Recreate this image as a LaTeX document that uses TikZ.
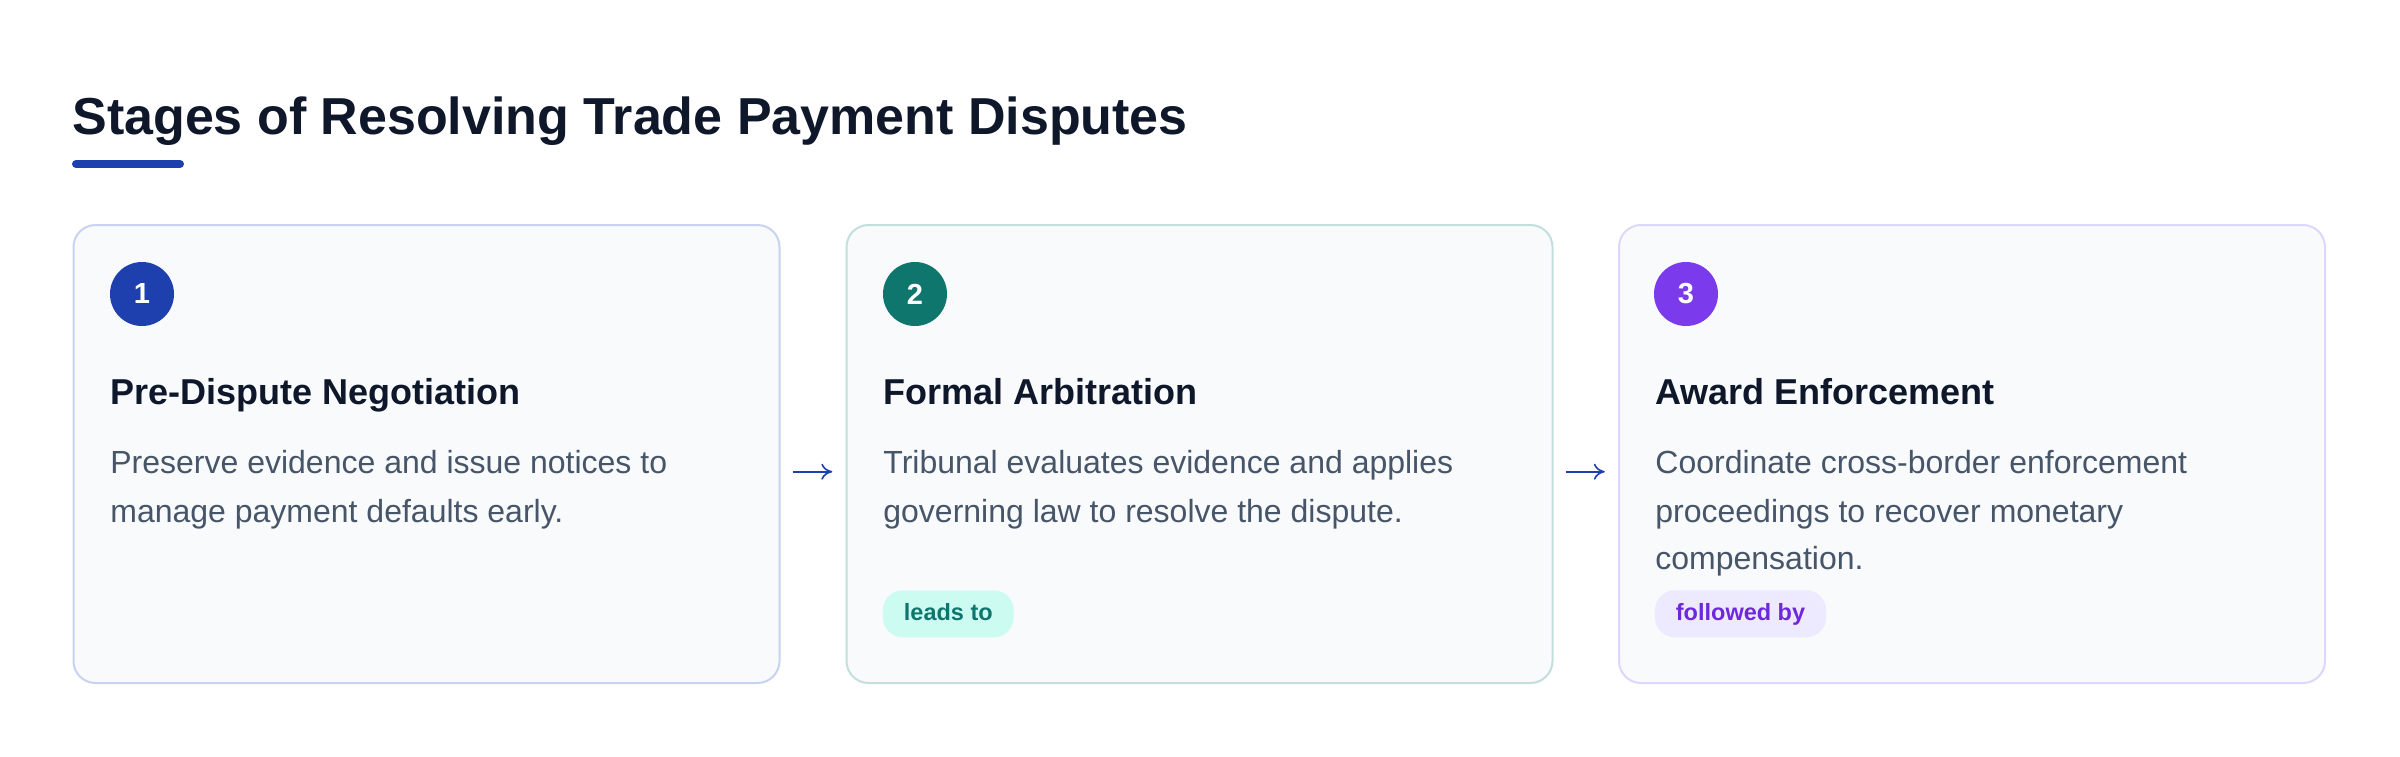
\documentclass[tikz,border=0pt]{standalone}
\usepackage{fontspec}
\setmainfont{Liberation Sans}
\usetikzlibrary{arrows.meta}
\definecolor{ink}{HTML}{0F172A}
\definecolor{bodyc}{HTML}{475569}
\definecolor{blu}{HTML}{1E40AF}
\definecolor{tea}{HTML}{0F766E}
\definecolor{vio}{HTML}{7C3AED}
\definecolor{cardfill}{HTML}{F8FAFC}
\definecolor{bord1}{HTML}{C9D3EF}
\definecolor{bord2}{HTML}{C3DFDB}
\definecolor{bord3}{HTML}{DED6FB}
\definecolor{tealbg}{HTML}{CCFBF1}
\definecolor{violbg}{HTML}{EDE9FE}
\definecolor{violtx}{HTML}{6D28D9}
\tikzset{
  cardbox/.style={draw=#1, fill=cardfill, line width=1pt, rounded corners=11pt,
    minimum width=353pt, minimum height=229pt, anchor=north west, inner sep=0pt},
  numdot/.style={circle, fill=#1, minimum size=32pt, inner sep=0pt, text=white,
    font=\bfseries\fontsize{14.5}{17}\selectfont},
  headtxt/.style={anchor=base west, inner sep=0pt, text=ink, font=\bfseries\fontsize{18}{22}\selectfont},
  bodytxt/.style={anchor=base west, inner sep=0pt, text=bodyc, font=\fontsize{16}{24}\selectfont},
  badge/.style={anchor=west, rounded corners=10pt, inner xsep=10.5pt, inner ysep=0pt,
    minimum height=23.5pt, text height=8.5pt, text depth=1.6pt,
    font=\bfseries\fontsize{11.75}{14}\selectfont},
  conn/.style={draw=blu, line width=0.8pt, -{Computer Modern Rightarrow[length=5.5pt,width=8pt]},
    shorten <=6.15pt, shorten >=6.6pt}
}
\begin{document}
\begin{tikzpicture}[x=0.5pt,y=-0.5pt]
\useasboundingbox[fill=white] (0,0) rectangle (2400,756);
% title
\node[anchor=base west, inner sep=0pt, text=ink, font=\bfseries\fontsize{26}{30}\selectfont] (title) at (72,134) {Stages of Resolving Trade Payment Disputes};
\draw[blu, line width=4pt, line cap=round] (76,164) -- (180,164);
% cards
\node[cardbox=bord1] (c1) at (72.5,224) {};
\node[cardbox=bord2] (c2) at (845.5,224) {};
\node[cardbox=bord3] (c3) at (1618,224) {};
% numbers
\node[numdot=blu] (n1) at (142,294) {1};
\node[numdot=tea] (n2) at (915,294) {2};
\node[numdot=vio] (n3) at (1686,294) {3};
% headings
\node[headtxt] (h1) at (110,404) {Pre-Dispute Negotiation};
\node[headtxt] (h2) at (883,404) {Formal Arbitration};
\node[headtxt] (h3) at (1655,404) {Award Enforcement};
% bodies
\node[bodytxt] (b1a) at (110,473.5) {Preserve evidence and issue notices to};
\node[bodytxt] (b1b) at (110,522) {manage payment defaults early.};
\node[bodytxt] (b2a) at (883,473.5) {Tribunal evaluates evidence and applies};
\node[bodytxt] (b2b) at (883,522) {governing law to resolve the dispute.};
\node[bodytxt] (b3a) at (1655,473.5) {Coordinate cross-border enforcement};
\node[bodytxt] (b3b) at (1655,522) {proceedings to recover monetary};
\node[bodytxt] (b3c) at (1655,569.5) {compensation.};
% badges
\node[badge, fill=tealbg, text=tea] (t2) at (882.5,613.8) {leads to};
\node[badge, fill=violbg, text=violtx] (t3) at (1654.5,613.8) {followed by};
% connectors
\draw[conn] ([yshift=-8.85pt]c1.east) -- ([yshift=-8.85pt]c2.west);
\draw[conn] ([yshift=-8.85pt]c2.east) -- ([yshift=-8.85pt]c3.west);
\end{tikzpicture}
\end{document}
